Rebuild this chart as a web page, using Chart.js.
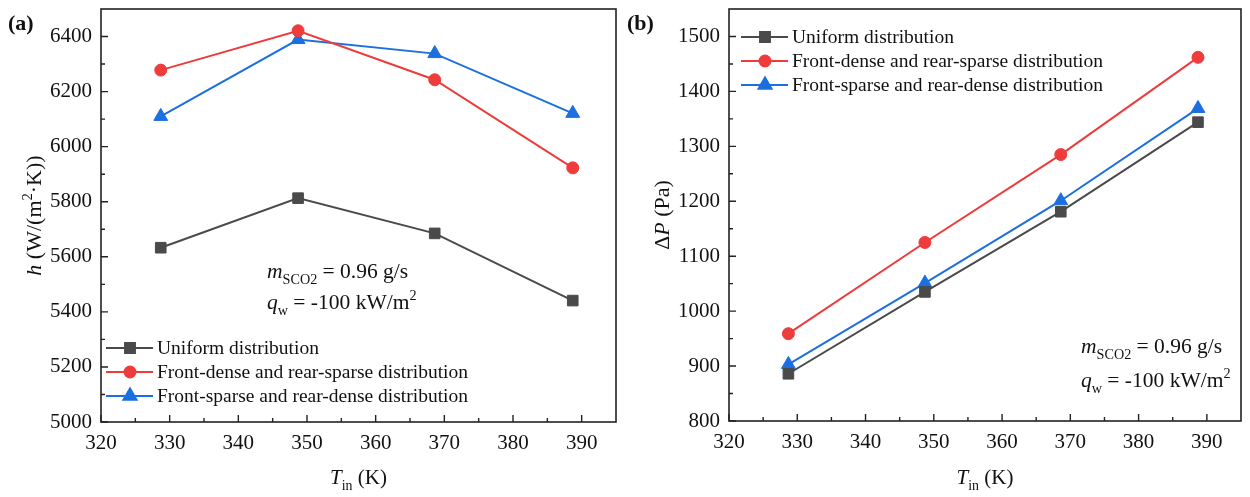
<!DOCTYPE html>
<html>
<head>
<meta charset="utf-8">
<title>SCO2 channel: h and pressure drop vs inlet temperature</title>
<script src="https://cdn.jsdelivr.net/npm/chart.js@4/dist/chart.umd.min.js"></script>
<style>
  html, body { margin: 0; padding: 0; background: #fff; }
  #wrap { position: relative; width: 1250px; height: 497px; overflow: hidden; }
  .panel { position: absolute; top: 0; width: 625px; height: 497px; }
</style>
</head>
<body>
<div id="wrap">
  <div class="panel" style="left:0"><canvas id="chartA" width="625" height="497"></canvas></div>
  <div class="panel" style="left:625px"><canvas id="chartB" width="625" height="497"></canvas></div>
</div>
<script>
const SERIF = '"Liberation Serif", "Times New Roman", serif';

// inlet temperature, K
const tempIn = [328.7, 348.7, 368.6, 388.7];

const seriesNames = [
    'Uniform distribution',
    'Front-dense and rear-sparse distribution',
    'Front-sparse and rear-dense distribution'
];
const seriesColors = ['#4a4a4a', '#ee3b3b', '#1b6fe0'];
const seriesMarkers = ['rect', 'circle', 'triangle'];
const markerRadius = [7.5, 6, 8];

// heat transfer coefficient h, W/(m2 K)
const hUniform = [5633, 5813, 5685, 5441];
const hFrontDense = [6278, 6421, 6243, 5923];
const hFrontSparse = [6110, 6389, 6338, 6121];

// pressure drop, Pa
const dpUniform = [886, 1035, 1181, 1344];
const dpFrontDense = [959, 1125, 1285, 1462];
const dpFrontSparse = [903, 1051, 1201, 1369];

const xTicks = [320, 330, 340, 350, 360, 370, 380, 390];
const hTicks = [5000, 5200, 5400, 5600, 5800, 6000, 6200, 6400];
const dpTicks = [800, 900, 1000, 1100, 1200, 1300, 1400, 1500];

// rich text runs: [text, flags], flags is a space separated list of 'italic', 'sub', 'sup'
function hasFlag(flags, f) {
    return flags.split(' ').indexOf(f) >= 0;
}

function runFont(flags, size) {
    let fs = size;
    if (hasFlag(flags, 'sub') || hasFlag(flags, 'sup')) fs = size * 0.66;
    return (hasFlag(flags, 'italic') ? 'italic ' : '') + fs + 'px ' + SERIF;
}

function richWidth(ctx, runs, size) {
    let w = 0;
    runs.forEach(r => {
        ctx.font = runFont(r[1], size);
        w += ctx.measureText(r[0]).width;
    });
    return w;
}

function drawRich(ctx, runs, x, y, size, align) {
    let cx = x;
    if (align === 'center') cx = x - richWidth(ctx, runs, size) / 2;
    ctx.textBaseline = 'alphabetic';
    ctx.textAlign = 'left';
    runs.forEach(r => {
        let dy = 0;
        if (hasFlag(r[1], 'sub')) dy = size * 0.28;
        if (hasFlag(r[1], 'sup')) dy = -size * 0.42;
        ctx.font = runFont(r[1], size);
        ctx.fillText(r[0], cx, y + dy);
        cx += ctx.measureText(r[0]).width;
    });
}

// frame, inward ticks, legend, axis titles and notes
const decorPlugin = {
    id: 'decor',
    afterDraw(chart, args, opts) {
        const ctx = chart.ctx;
        const area = chart.chartArea;
        const xs = chart.scales.x;
        const ys = chart.scales.y;
        ctx.save();
        ctx.fillStyle = '#111';
        ctx.strokeStyle = '#222';

        // inward major / minor ticks on bottom and left
        ctx.lineWidth = 1.4;
        ctx.beginPath();
        const xStep = xTicks[1] - xTicks[0];
        xTicks.forEach(v => {
            const px = xs.getPixelForValue(v);
            ctx.moveTo(px, area.bottom);
            ctx.lineTo(px, area.bottom - 7);
            const mv = v + xStep / 2;
            if (mv < xs.max) {
                const mpx = xs.getPixelForValue(mv);
                ctx.moveTo(mpx, area.bottom);
                ctx.lineTo(mpx, area.bottom - 4);
            }
        });
        const yt = opts.yTicks;
        const yStep = yt[1] - yt[0];
        yt.forEach(v => {
            const py = ys.getPixelForValue(v);
            ctx.moveTo(area.left, py);
            ctx.lineTo(area.left + 7, py);
            const mv = v + yStep / 2;
            if (mv < ys.max) {
                const mpy = ys.getPixelForValue(mv);
                ctx.moveTo(area.left, mpy);
                ctx.lineTo(area.left + 4, mpy);
            }
        });
        ctx.stroke();

        ctx.lineWidth = 1.6;
        ctx.strokeRect(area.left, area.top, area.right - area.left, area.bottom - area.top);

        // legend: line with marker, then label
        const lg = opts.legend;
        chart.data.datasets.forEach((ds, i) => {
            const ly = lg.y + i * lg.gap;
            ctx.strokeStyle = ds.borderColor;
            ctx.lineWidth = 2;
            ctx.beginPath();
            ctx.moveTo(lg.x, ly);
            ctx.lineTo(lg.x + 47, ly);
            ctx.stroke();
            ctx.fillStyle = ds.pointBackgroundColor;
            ctx.strokeStyle = ds.pointBorderColor;
            Chart.helpers.drawPoint(ctx, {
                pointStyle: ds.pointStyle,
                radius: ds.pointRadius - 0.5,
                borderWidth: 1,
                rotation: 0
            }, lg.x + 24, ly);
            ctx.fillStyle = '#111';
            ctx.font = '19.5px ' + SERIF;
            ctx.textAlign = 'left';
            ctx.textBaseline = 'middle';
            ctx.fillText(ds.label, lg.x + 51, ly + 1);
        });

        ctx.fillStyle = '#111';
        // panel tag
        ctx.font = 'bold 22px ' + SERIF;
        ctx.textAlign = 'left';
        ctx.textBaseline = 'alphabetic';
        ctx.fillText(opts.tag, opts.tagX, 30);

        // x title
        drawRich(ctx, [['T', 'italic'], ['in', 'sub'], [' (K)', '']], (area.left + area.right) / 2, 484, 21, 'center');

        // y title, rotated
        ctx.save();
        ctx.translate(opts.yTitleX, (area.top + area.bottom) / 2);
        ctx.rotate(-Math.PI / 2);
        drawRich(ctx, opts.yTitle, 0, 0, 22, 'center');
        ctx.restore();

        // operating conditions
        const n = opts.note;
        drawRich(ctx, [['m', 'italic'], ['SCO2', 'sub'], [' = 0.96 g/s', '']], n.x, n.y, 21.5, 'left');
        drawRich(ctx, [['q', 'italic'], ['w', 'sub'], [' = -100 kW/m', ''], ['2', 'sup']], n.x, n.y + n.gap, 21.5, 'left');

        ctx.restore();
    }
};

function makeDatasets(seriesValues) {
    return seriesValues.map((ys, i) => ({
        label: seriesNames[i],
        data: tempIn.map((x, j) => ({ x: x, y: ys[j] })),
        borderColor: seriesColors[i],
        backgroundColor: seriesColors[i],
        pointBackgroundColor: seriesColors[i],
        pointBorderColor: seriesColors[i],
        borderWidth: 2,
        pointStyle: seriesMarkers[i],
        pointRadius: markerRadius[i],
        pointBorderWidth: 1,
        tension: 0
    }));
}

function makeChart(canvasId, datasets, cfg) {
    const tickFont = { family: SERIF, size: 21 };
    return new Chart(document.getElementById(canvasId), {
        type: 'line',
        data: { datasets: datasets },
        plugins: [decorPlugin],
        options: {
            responsive: false,
            animation: false,
            layout: { padding: { top: 5, right: cfg.padRight, left: 0, bottom: 0 } },
            plugins: {
                legend: { display: false },
                tooltip: { enabled: false },
                decor: cfg.decor
            },
            scales: {
                x: {
                    type: 'linear',
                    min: 320,
                    max: 395,
                    grid: { display: false, drawTicks: false },
                    border: { display: false },
                    afterBuildTicks: s => { s.ticks = xTicks.map(v => ({ value: v })); },
                    afterFit: s => {
                        s.height = cfg.xHeight;
                        s.paddingLeft = 0;
                        s.paddingRight = 0;
                    },
                    ticks: {
                        font: tickFont, color: '#111', padding: 9, maxRotation: 0, autoSkip: false,
                        callback: v => String(v)
                    }
                },
                y: {
                    type: 'linear',
                    min: cfg.yMin,
                    max: cfg.yMax,
                    grid: { display: false, drawTicks: false },
                    border: { display: false },
                    afterBuildTicks: s => { s.ticks = cfg.yTicks.map(v => ({ value: v })); },
                    afterFit: s => {
                        s.width = cfg.yWidth;
                        s.paddingTop = 0;
                        s.paddingBottom = 0;
                    },
                    ticks: {
                        font: tickFont, color: '#111', padding: 9, autoSkip: false,
                        callback: v => String(v)
                    }
                }
            }
        }
    });
}

makeChart('chartA', makeDatasets([hUniform, hFrontDense, hFrontSparse]), {
    yMin: 5000, yMax: 6500, yTicks: hTicks,
    yWidth: 101, xHeight: 75, padRight: 9,
    decor: {
        yTicks: hTicks,
        tag: '(a)', tagX: 8,
        yTitleX: 41,
        yTitle: [['h', 'italic'], [' (W/(m', ''], ['2', 'sup'], ['\u00b7K))', '']],
        legend: { x: 106, y: 348, gap: 24 },
        note: { x: 267, y: 278, gap: 31 }
    }
});

makeChart('chartB', makeDatasets([dpUniform, dpFrontDense, dpFrontSparse]), {
    yMin: 800, yMax: 1550, yTicks: dpTicks,
    yWidth: 104, xHeight: 76, padRight: 6,
    decor: {
        yTicks: dpTicks,
        tag: '(b)', tagX: 2,
        yTitleX: 44,
        yTitle: [['\u0394', ''], ['P', 'italic'], [' (Pa)', '']],
        legend: { x: 116, y: 37, gap: 24 },
        note: { x: 456, y: 353, gap: 34 }
    }
});
</script>
</body>
</html>
